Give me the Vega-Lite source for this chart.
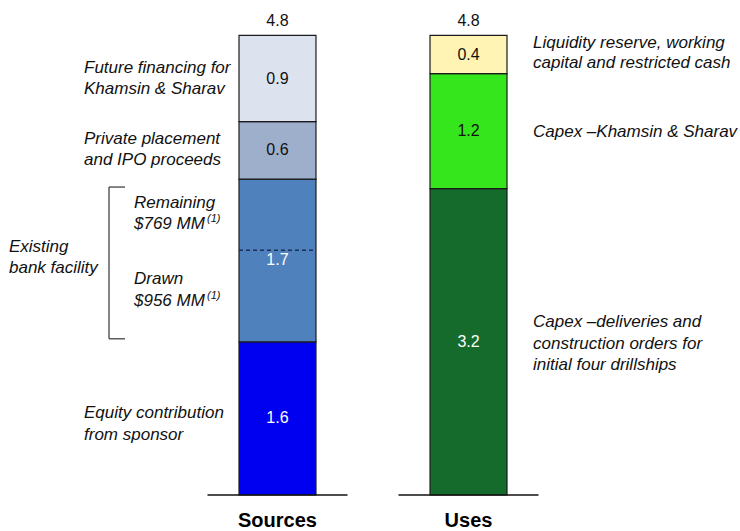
{
  "$schema": "https://vega.github.io/schema/vega-lite/v6.json",
  "width": 740,
  "height": 495,
  "autosize": {"type": "none"},
  "padding": {"left": 0, "top": 0, "right": 0, "bottom": 36},
  "background": "white",
  "config": {
    "view": {"stroke": null},
    "font": "Liberation Sans",
    "text": {"font": "Liberation Sans"}
  },
  "datasets": {
    "segments": [
      {"column": "Sources", "item": "Equity contribution from sponsor", "note": "Equity contribution\nfrom sponsor", "lines": 2, "value": 1.6, "order": 1},
      {"column": "Sources", "item": "Existing bank facility", "note": "Existing\nbank facility", "lines": 2, "value": 1.7, "order": 2},
      {"column": "Sources", "item": "Private placement and IPO proceeds", "note": "Private placement\nand IPO proceeds", "lines": 2, "value": 0.6, "order": 3},
      {"column": "Sources", "item": "Future financing for Khamsin & Sharav", "note": "Future financing for\nKhamsin & Sharav", "lines": 2, "value": 0.9, "order": 4},
      {"column": "Uses", "item": "Capex – deliveries and construction orders", "note": "Capex –deliveries and\nconstruction orders for\ninitial four drillships", "lines": 3, "value": 3.2, "order": 1},
      {"column": "Uses", "item": "Capex – Khamsin & Sharav", "note": "Capex –Khamsin & Sharav", "lines": 1, "value": 1.2, "order": 2},
      {"column": "Uses", "item": "Liquidity reserve, working capital and restricted cash", "note": "Liquidity reserve, working\ncapital and restricted cash", "lines": 2, "value": 0.4, "order": 3}
    ],
    "facility": [
      {"column": "Sources", "part": "Equity", "note": "", "amount": 1.6, "order": 0},
      {"column": "Sources", "part": "Drawn", "note": "Drawn\n$956 MM", "amount": 0.956, "order": 1},
      {"column": "Sources", "part": "Remaining", "note": "Remaining\n$769 MM", "amount": 0.769, "order": 2}
    ]
  },
  "layer": [
    {
      "data": {"name": "segments"},
      "transform": [
        {"stack": "value", "groupby": ["column"], "sort": [{"field": "order", "order": "ascending"}], "as": ["y0", "y1"]}
      ],
      "mark": {"type": "bar", "stroke": "#1c1c1c", "strokeWidth": 1.2},
      "encoding": {
        "x": {
          "field": "column", "type": "nominal",
          "scale": {"type": "band", "domain": ["Sources", "Uses"], "range": [239, 507], "paddingInner": 0.597, "paddingOuter": 0},
          "axis": {"title": null, "domain": false, "ticks": false, "labelAngle": 0, "labelFontSize": 20, "labelFontWeight": "bold", "labelColor": "#000000", "labelPadding": 15}
        },
        "y": {"field": "y0", "type": "quantitative", "scale": {"domain": [0, 5.17], "nice": false, "zero": true}, "axis": null},
        "y2": {"field": "y1"},
        "fill": {
          "field": "item", "type": "nominal", "legend": null,
          "scale": {
            "domain": [
              "Equity contribution from sponsor",
              "Existing bank facility",
              "Private placement and IPO proceeds",
              "Future financing for Khamsin & Sharav",
              "Capex – deliveries and construction orders",
              "Capex – Khamsin & Sharav",
              "Liquidity reserve, working capital and restricted cash"
            ],
            "range": ["#0000f0", "#4f81bd", "#9eafcc", "#dde3ee", "#156b2b", "#36e61c", "#fff4b3"]
          }
        }
      }
    },
    {
      "data": {"name": "segments"},
      "transform": [
        {"stack": "value", "groupby": ["column"], "sort": [{"field": "order", "order": "ascending"}], "as": ["y0", "y1"]},
        {"calculate": "(datum.y0 + datum.y1) / 2", "as": "mid"}
      ],
      "mark": {"type": "text", "fontSize": 16, "baseline": "middle", "align": "center"},
      "encoding": {
        "x": {"field": "column", "type": "nominal"},
        "y": {"field": "mid", "type": "quantitative"},
        "text": {"field": "value", "type": "quantitative", "format": ".1f"},
        "color": {
          "condition": {"test": "indexof(['Equity contribution from sponsor', 'Existing bank facility', 'Capex – deliveries and construction orders'], datum.item) >= 0", "value": "#ffffff"},
          "value": "#111111"
        }
      }
    },
    {
      "data": {"name": "segments"},
      "transform": [
        {"aggregate": [{"op": "sum", "field": "value", "as": "total"}], "groupby": ["column"]}
      ],
      "mark": {"type": "text", "fontSize": 16, "baseline": "alphabetic", "align": "center", "dy": -9, "color": "#111111"},
      "encoding": {
        "x": {"field": "column", "type": "nominal"},
        "y": {"field": "total", "type": "quantitative"},
        "text": {"field": "total", "type": "quantitative", "format": ".1f"}
      }
    },
    {
      "data": {"name": "segments"},
      "transform": [
        {"aggregate": [{"op": "sum", "field": "value", "as": "total"}], "groupby": ["column"]}
      ],
      "mark": {"type": "tick", "size": 140, "thickness": 1.5, "color": "#111111", "opacity": 1},
      "encoding": {
        "x": {"field": "column", "type": "nominal"},
        "y": {"datum": 0, "type": "quantitative"}
      }
    },
    {
      "data": {"name": "segments"},
      "transform": [
        {"stack": "value", "groupby": ["column"], "sort": [{"field": "order", "order": "ascending"}], "as": ["y0", "y1"]},
        {"calculate": "(datum.y0 + datum.y1) / 2", "as": "mid"},
        {"filter": "datum.column === 'Sources' && datum.order > 2"}
      ],
      "mark": {"type": "text", "fontSize": 17, "fontStyle": "italic", "align": "left", "baseline": "middle", "lineBreak": "\n", "lineHeight": 21, "dx": -155, "dy": -11, "color": "#111111"},
      "encoding": {
        "x": {"field": "column", "type": "nominal", "bandPosition": 0},
        "y": {"field": "mid", "type": "quantitative"},
        "text": {"field": "note", "type": "nominal"}
      }
    },
    {
      "data": {"name": "segments"},
      "transform": [
        {"stack": "value", "groupby": ["column"], "sort": [{"field": "order", "order": "ascending"}], "as": ["y0", "y1"]},
        {"calculate": "(datum.y0 + datum.y1) / 2", "as": "mid"},
        {"filter": "datum.item === 'Equity contribution from sponsor'"}
      ],
      "mark": {"type": "text", "fontSize": 17, "fontStyle": "italic", "align": "left", "baseline": "middle", "lineBreak": "\n", "lineHeight": 21.5, "dx": -155, "dy": -5, "color": "#111111"},
      "encoding": {
        "x": {"field": "column", "type": "nominal", "bandPosition": 0},
        "y": {"field": "mid", "type": "quantitative"},
        "text": {"field": "note", "type": "nominal"}
      }
    },
    {
      "data": {"name": "segments"},
      "transform": [
        {"stack": "value", "groupby": ["column"], "sort": [{"field": "order", "order": "ascending"}], "as": ["y0", "y1"]},
        {"calculate": "(datum.y0 + datum.y1) / 2", "as": "mid"},
        {"filter": "datum.item === 'Existing bank facility'"}
      ],
      "mark": {"type": "text", "fontSize": 17, "fontStyle": "italic", "align": "left", "baseline": "middle", "lineBreak": "\n", "lineHeight": 21, "dx": -230, "dy": -13, "color": "#111111"},
      "encoding": {
        "x": {"field": "column", "type": "nominal", "bandPosition": 0},
        "y": {"field": "mid", "type": "quantitative"},
        "text": {"field": "note", "type": "nominal"}
      }
    },
    {
      "data": {"name": "segments"},
      "transform": [
        {"stack": "value", "groupby": ["column"], "sort": [{"field": "order", "order": "ascending"}], "as": ["y0", "y1"]},
        {"calculate": "(datum.y0 + datum.y1) / 2", "as": "mid"},
        {"filter": "datum.column === 'Uses' && datum.lines === 1"}
      ],
      "mark": {"type": "text", "fontSize": 17, "fontStyle": "italic", "align": "left", "baseline": "middle", "lineBreak": "\n", "lineHeight": 21, "dx": 26, "dy": 1, "color": "#111111"},
      "encoding": {
        "x": {"field": "column", "type": "nominal", "bandPosition": 1},
        "y": {"field": "mid", "type": "quantitative"},
        "text": {"field": "note", "type": "nominal"}
      }
    },
    {
      "data": {"name": "segments"},
      "transform": [
        {"stack": "value", "groupby": ["column"], "sort": [{"field": "order", "order": "ascending"}], "as": ["y0", "y1"]},
        {"calculate": "(datum.y0 + datum.y1) / 2", "as": "mid"},
        {"filter": "datum.column === 'Uses' && datum.lines === 2"}
      ],
      "mark": {"type": "text", "fontSize": 17, "fontStyle": "italic", "align": "left", "baseline": "middle", "lineBreak": "\n", "lineHeight": 20, "dx": 26, "dy": -12, "color": "#111111"},
      "encoding": {
        "x": {"field": "column", "type": "nominal", "bandPosition": 1},
        "y": {"field": "mid", "type": "quantitative"},
        "text": {"field": "note", "type": "nominal"}
      }
    },
    {
      "data": {"name": "segments"},
      "transform": [
        {"stack": "value", "groupby": ["column"], "sort": [{"field": "order", "order": "ascending"}], "as": ["y0", "y1"]},
        {"calculate": "(datum.y0 + datum.y1) / 2", "as": "mid"},
        {"filter": "datum.column === 'Uses' && datum.lines === 3"}
      ],
      "mark": {"type": "text", "fontSize": 17, "fontStyle": "italic", "align": "left", "baseline": "middle", "lineBreak": "\n", "lineHeight": 21.5, "dx": 26, "dy": -19.5, "color": "#111111"},
      "encoding": {
        "x": {"field": "column", "type": "nominal", "bandPosition": 1},
        "y": {"field": "mid", "type": "quantitative"},
        "text": {"field": "note", "type": "nominal"}
      }
    },
    {
      "data": {"name": "segments"},
      "transform": [
        {"stack": "value", "groupby": ["column"], "sort": [{"field": "order", "order": "ascending"}], "as": ["y0", "y1"]},
        {"filter": "datum.item === 'Existing bank facility'"}
      ],
      "mark": {"type": "rule", "color": "#333333", "strokeWidth": 1.2, "xOffset": -130, "yOffset": 8, "y2Offset": -3},
      "encoding": {
        "x": {"field": "column", "type": "nominal", "bandPosition": 0},
        "y": {"field": "y1", "type": "quantitative"},
        "y2": {"field": "y0"}
      }
    },
    {
      "data": {"name": "segments"},
      "transform": [
        {"stack": "value", "groupby": ["column"], "sort": [{"field": "order", "order": "ascending"}], "as": ["y0", "y1"]},
        {"filter": "datum.item === 'Existing bank facility'"}
      ],
      "mark": {"type": "tick", "size": 16, "thickness": 1.2, "color": "#333333", "opacity": 1, "xOffset": -160.5, "yOffset": 8},
      "encoding": {
        "x": {"field": "column", "type": "nominal"},
        "y": {"field": "y1", "type": "quantitative"}
      }
    },
    {
      "data": {"name": "segments"},
      "transform": [
        {"stack": "value", "groupby": ["column"], "sort": [{"field": "order", "order": "ascending"}], "as": ["y0", "y1"]},
        {"filter": "datum.item === 'Existing bank facility'"}
      ],
      "mark": {"type": "tick", "size": 16, "thickness": 1.2, "color": "#333333", "opacity": 1, "xOffset": -160.5, "yOffset": -3},
      "encoding": {
        "x": {"field": "column", "type": "nominal"},
        "y": {"field": "y0", "type": "quantitative"}
      }
    },
    {
      "data": {"name": "facility"},
      "transform": [
        {"stack": "amount", "groupby": ["column"], "sort": [{"field": "order", "order": "ascending"}], "as": ["y0", "y1"]},
        {"filter": "datum.part === 'Drawn'"}
      ],
      "mark": {"type": "rule", "color": "#1a2f5a", "strokeWidth": 1.5, "strokeDash": [4, 3], "x2Offset": 38.5},
      "encoding": {
        "x": {"field": "column", "type": "nominal", "bandPosition": 0},
        "x2": {"field": "column"},
        "y": {"field": "y1", "type": "quantitative"}
      }
    },
    {
      "data": {"name": "facility"},
      "transform": [
        {"stack": "amount", "groupby": ["column"], "sort": [{"field": "order", "order": "ascending"}], "as": ["y0", "y1"]},
        {"calculate": "(datum.y0 + datum.y1) / 2", "as": "mid"},
        {"filter": "datum.part === 'Remaining'"}
      ],
      "mark": {"type": "text", "fontSize": 17, "fontStyle": "italic", "align": "left", "baseline": "middle", "lineBreak": "\n", "lineHeight": 21, "dx": -105, "dy": -10.5, "color": "#111111"},
      "encoding": {
        "x": {"field": "column", "type": "nominal", "bandPosition": 0},
        "y": {"field": "mid", "type": "quantitative"},
        "text": {"field": "note", "type": "nominal"}
      }
    },
    {
      "data": {"name": "facility"},
      "transform": [
        {"stack": "amount", "groupby": ["column"], "sort": [{"field": "order", "order": "ascending"}], "as": ["y0", "y1"]},
        {"calculate": "(datum.y0 + datum.y1) / 2", "as": "mid"},
        {"filter": "datum.part === 'Remaining'"}
      ],
      "mark": {"type": "text", "fontSize": 11, "fontStyle": "italic", "align": "left", "baseline": "middle", "dx": -32, "dy": 6, "color": "#111111"},
      "encoding": {
        "x": {"field": "column", "type": "nominal", "bandPosition": 0},
        "y": {"field": "mid", "type": "quantitative"},
        "text": {"value": "(1)"}
      }
    },
    {
      "data": {"name": "facility"},
      "transform": [
        {"stack": "amount", "groupby": ["column"], "sort": [{"field": "order", "order": "ascending"}], "as": ["y0", "y1"]},
        {"calculate": "(datum.y0 + datum.y1) / 2", "as": "mid"},
        {"filter": "datum.part === 'Drawn'"}
      ],
      "mark": {"type": "text", "fontSize": 17, "fontStyle": "italic", "align": "left", "baseline": "middle", "lineBreak": "\n", "lineHeight": 21.5, "dx": -105, "dy": -17, "color": "#111111"},
      "encoding": {
        "x": {"field": "column", "type": "nominal", "bandPosition": 0},
        "y": {"field": "mid", "type": "quantitative"},
        "text": {"field": "note", "type": "nominal"}
      }
    },
    {
      "data": {"name": "facility"},
      "transform": [
        {"stack": "amount", "groupby": ["column"], "sort": [{"field": "order", "order": "ascending"}], "as": ["y0", "y1"]},
        {"calculate": "(datum.y0 + datum.y1) / 2", "as": "mid"},
        {"filter": "datum.part === 'Drawn'"}
      ],
      "mark": {"type": "text", "fontSize": 11, "fontStyle": "italic", "align": "left", "baseline": "middle", "dx": -32, "dy": 0, "color": "#111111"},
      "encoding": {
        "x": {"field": "column", "type": "nominal", "bandPosition": 0},
        "y": {"field": "mid", "type": "quantitative"},
        "text": {"value": "(1)"}
      }
    }
  ]
}
